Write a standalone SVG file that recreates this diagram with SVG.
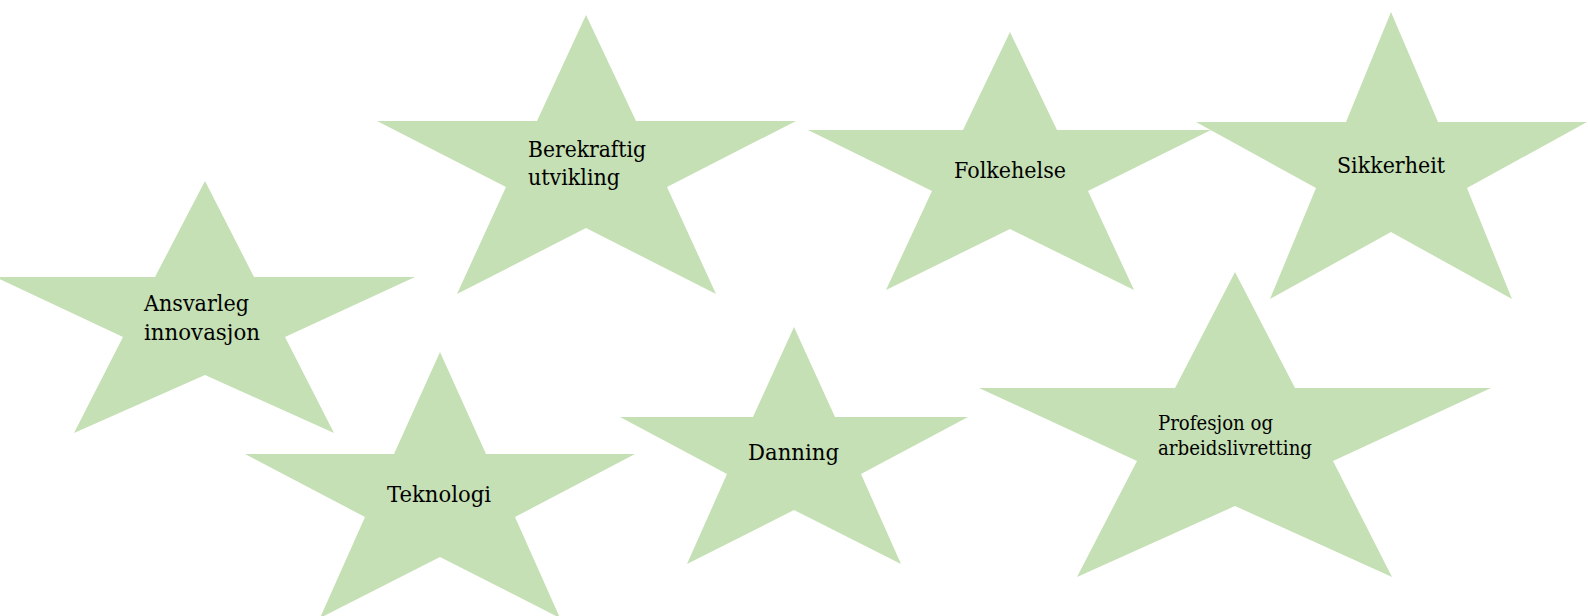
<svg xmlns="http://www.w3.org/2000/svg" width="1588" height="616" viewBox="0 0 1588 616">
<style>
.star{fill:#C5E0B4;stroke:none}
.lbl{font-family:"DejaVu Serif","Liberation Serif",serif;font-size:21.5px;fill:#000}
.sm{font-size:19.5px}
</style>
<rect width="1588" height="616" fill="#fff"/>
<g id="connectors"/>
<g id="star-ansvarleg">
<polygon class="star" points="205,181 254,277 415,277 285,337 334,433 205,375 74,433 123,337 -5,277 155,277"/>
<text class="lbl" x="144" y="311" textLength="105" lengthAdjust="spacingAndGlyphs">Ansvarleg</text>
<text class="lbl" x="144" y="340" textLength="116" lengthAdjust="spacingAndGlyphs">innovasjon</text>
</g>
<g id="star-berekraftig">
<polygon class="star" points="586,15 636,121 796,121 667,187 716,294 586,228 457,294 506,187 377,121 537,121"/>
<text class="lbl" x="528" y="157" textLength="118" lengthAdjust="spacingAndGlyphs">Berekraftig</text>
<text class="lbl" x="528" y="185" textLength="92" lengthAdjust="spacingAndGlyphs">utvikling</text>
</g>
<g id="star-folkehelse">
<polygon class="star" points="1010,32 1057,130 1211,130 1088,191 1134,290 1010,229 886,290 932,191 808,130 963,130"/>
<text class="lbl" x="954" y="178" textLength="112" lengthAdjust="spacingAndGlyphs">Folkehelse</text>
</g>
<g id="star-sikkerheit">
<polygon class="star" points="1391,12 1438,122 1587,122 1467,188 1512,299 1391,232 1270,299 1316,188 1196,122 1346,122"/>
<text class="lbl" x="1337" y="173" textLength="108" lengthAdjust="spacingAndGlyphs">Sikkerheit</text>
</g>
<g id="star-teknologi">
<polygon class="star" points="440,352 486,454 635,454 515,517 560,618 440,557 320,618 365,517 245,454 394,454"/>
<text class="lbl" x="387" y="502" textLength="104" lengthAdjust="spacingAndGlyphs">Teknologi</text>
</g>
<g id="star-danning">
<polygon class="star" points="794,327 835,417 968,417 861,474 901,564 794,510 687,564 727,474 620,417 753,417"/>
<text class="lbl" x="748" y="460" textLength="91" lengthAdjust="spacingAndGlyphs">Danning</text>
</g>
<g id="star-profesjon">
<polygon class="star" points="1235,272 1295,388 1491,388 1333,461 1392,577 1235,506 1077,577 1137,461 979,388 1175,388"/>
<text class="lbl sm" x="1158" y="430" textLength="115" lengthAdjust="spacingAndGlyphs">Profesjon og</text>
<text class="lbl sm" x="1158" y="455" textLength="154" lengthAdjust="spacingAndGlyphs">arbeidslivretting</text>
</g>
</svg>
